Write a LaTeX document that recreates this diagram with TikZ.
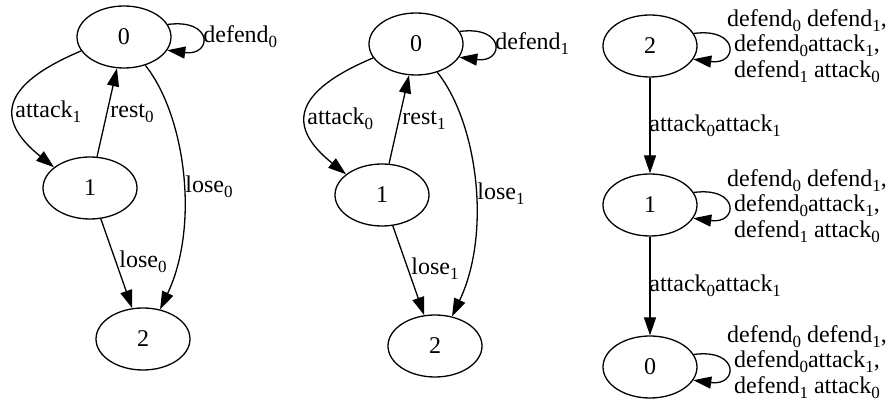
\documentclass[tikz,border=0pt]{standalone}
\usepackage{fontspec}
\setmainfont{Liberation Serif}
\usetikzlibrary{shapes.geometric,arrows.meta}
\newcommand{\lo}[1]{\raisebox{-2.4pt}{\fontsize{8.5}{8.5}\selectfont #1}}
\begin{document}
\begin{tikzpicture}[x=0.5pt,y=-0.5pt,
 state/.style={ellipse,draw,line width=0.65pt,minimum width=47pt,minimum height=31pt,inner sep=0pt,font=\fontsize{12}{12}\selectfont},
 edge/.style={line width=0.65pt,-{Triangle[length=9pt,width=6pt]}},
 lbl/.style={anchor=base west,inner sep=0pt,font=\fontsize{12}{12}\selectfont},
 mlbl/.style={align=center,inner sep=0pt,font=\fontsize{12}{12.8}\selectfont}]
\useasboundingbox (0,0) rectangle (891,401);
% ---------- graph 1 ----------
\node[state] (a0) at (124,37) {0};
\node[state] (a1) at (90,188) {1};
\node[state] (a2) at (143,339) {2};
\draw[edge] (a0.16) .. controls +(46,-6) and +(45,6) .. (a0.-17);
\draw[edge] (a0.198) .. controls (0,85) and (-5,120) .. (a1.150);
\draw[edge] (a1) -- (a0);
\draw[edge] (a0.-53) .. controls (185,115) and (200,225) .. (a2.60);
\draw[edge] (a1) -- (a2);
\node[lbl] (la0) at (203,43) {defend\lo{0}};
\node[lbl] (la1) at (15,118) {attack\lo{1}};
\node[lbl] (la2) at (110,118) {rest\lo{0}};
\node[lbl] (la3) at (185,193) {lose\lo{0}};
\node[lbl] (la4) at (119,268) {lose\lo{0}};
% ---------- graph 2 ----------
\begin{scope}[shift={(292,7)}]
\node[state] (b0) at (124,37) {0};
\node[state] (b1) at (90,188) {1};
\node[state] (b2) at (143,339) {2};
\draw[edge] (b0.16) .. controls +(46,-6) and +(45,6) .. (b0.-17);
\draw[edge] (b0.198) .. controls (0,85) and (-5,120) .. (b1.150);
\draw[edge] (b1) -- (b0);
\draw[edge] (b0.-53) .. controls (185,115) and (200,225) .. (b2.60);
\draw[edge] (b1) -- (b2);
\node[lbl] (lb0) at (203,43) {defend\lo{1}};
\node[lbl] (lb1) at (15,118) {attack\lo{0}};
\node[lbl] (lb2) at (110,118) {rest\lo{1}};
\node[lbl] (lb3) at (185,193) {lose\lo{1}};
\node[lbl] (lb4) at (119,268) {lose\lo{1}};
\end{scope}
% ---------- graph 3 ----------
\node[state] (c2) at (650,46) {2};
\node[state] (c1) at (650,205) {1};
\node[state] (c0) at (650,367) {0};
\draw[edge] (c2) -- (c1);
\draw[edge] (c1) -- (c0);
\draw[edge] (c2.16) .. controls +(46,-6) and +(45,6) .. (c2.-17);
\draw[edge] (c1.16) .. controls +(46,-6) and +(45,6) .. (c1.-17);
\draw[edge] (c0.16) .. controls +(46,-6) and +(45,6) .. (c0.-17);
\node[lbl] (lc0) at (649,132) {attack\lo{0}attack\lo{1}};
\node[lbl] (lc1) at (649,292) {attack\lo{0}attack\lo{1}};
\node[mlbl] (lc2) at (807,46) {defend\lo{0} defend\lo{1},\\defend\lo{0}attack\lo{1},\\defend\lo{1} attack\lo{0}};
\node[mlbl] (lc3) at (807,206) {defend\lo{0} defend\lo{1},\\defend\lo{0}attack\lo{1},\\defend\lo{1} attack\lo{0}};
\node[mlbl] (lc4) at (807,362) {defend\lo{0} defend\lo{1},\\defend\lo{0}attack\lo{1},\\defend\lo{1} attack\lo{0}};
\end{tikzpicture}
\end{document}
